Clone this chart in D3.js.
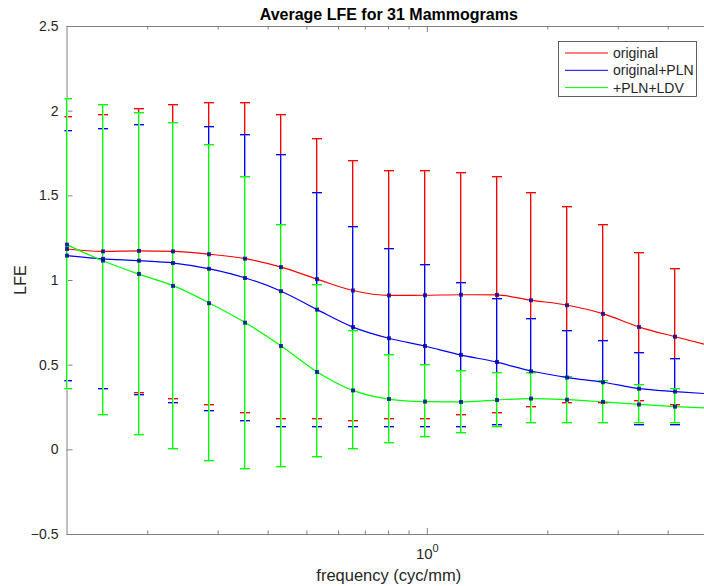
<!DOCTYPE html>
<html>
<head>
<meta charset="utf-8">
<script src="https://cdn.jsdelivr.net/npm/d3@7"></script>
<style>
  html, body { margin: 0; padding: 0; background: #fff; }
  svg { display: block; font-family: "Liberation Sans", Arial, Helvetica, sans-serif; }
</style>
</head>
<body>
<svg id="chart" width="704" height="586"></svg>
<script>
// ---- data ----
const freq = [0.1257, 0.1544, 0.1897, 0.2331, 0.2865, 0.3521, 0.4327, 0.5317, 0.6534, 0.8030,
              0.9868, 1.2127, 1.490, 1.831, 2.250, 2.765, 3.398, 4.176, 5.132];
const origMean = [1.183, 1.169, 1.172, 1.169, 1.152, 1.126, 1.076, 1.005, 0.938, 0.909,
                  0.910, 0.913, 0.912, 0.880, 0.851, 0.800, 0.722, 0.665, 0.610];
const origStd  = [0.777, 0.811, 0.843, 0.866, 0.894, 0.915, 0.895, 0.829, 0.767, 0.734,
                  0.730, 0.714, 0.698, 0.630, 0.582, 0.530, 0.434, 0.400, 0.370];
const plnMean  = [1.144, 1.125, 1.114, 1.100, 1.066, 1.012, 0.934, 0.825, 0.722, 0.656,
                  0.610, 0.558, 0.516, 0.461, 0.424, 0.396, 0.358, 0.341, 0.327];
const plnStd   = [0.737, 0.766, 0.797, 0.823, 0.837, 0.840, 0.799, 0.693, 0.586, 0.524,
                  0.482, 0.422, 0.370, 0.311, 0.274, 0.246, 0.213, 0.195, 0.180];
const ldvMean  = [1.209, 1.115, 1.036, 0.965, 0.863, 0.748, 0.610, 0.457, 0.348, 0.297,
                  0.282, 0.280, 0.291, 0.300, 0.293, 0.280, 0.265, 0.252, 0.243];
const ldvStd   = [0.856, 0.917, 0.956, 0.963, 0.930, 0.864, 0.717, 0.508, 0.346, 0.262,
                  0.215, 0.178, 0.161, 0.147, 0.140, 0.126, 0.111, 0.100, 0.095];
const seriesNames = ["original", "original+PLN", "+PLN+LDV"];
const seriesColors = ["#ff0000", "#0000ff", "#00ff00"];
const haloColors = ["#ffa0a0", "#a0a0ff", "#a0ffa0"];
const yTicks = [-0.5, 0, 0.5, 1, 1.5, 2, 2.5];
const xMajorTicks = [1];
const xMinorTicks = [0.2, 0.3, 0.4, 0.5, 0.6, 0.7, 0.8, 0.9, 2, 3, 4, 5];
const titleText = "Average LFE for 31 Mammograms";
const xLabel = "frequency (cyc/mm)";
const yLabel = "LFE";

// ---- layout ----
const L = 66.5, R = 711, T = 26, B = 534;
const axisColor = "#808080", textColor = "#262626";

const svg = d3.select("#chart");
const x = d3.scaleLog().domain([freq[0], freq[freq.length - 1]]).range([L, R]);
const y = d3.scaleLinear().domain([-0.5, 2.5]).range([B, T]);
// centre 2-pixel-wide strokes on odd pixel boundaries
const snapOdd = v => 2 * Math.round((v - 1) / 2) + 1;

const series = seriesNames.map((n, k) => ({
  name: n, color: seriesColors[k], halo: haloColors[k],
  mean: [origMean, plnMean, ldvMean][k], sd: [origStd, plnStd, ldvStd][k]
}));

svg.append("defs").append("clipPath").attr("id", "plotclip")
  .append("rect").attr("x", L - 2).attr("y", T - 1).attr("width", R - L + 3).attr("height", B - T + 2);

// ---- axes ----
function styleAxis(g) {
  g.selectAll("path.domain").attr("stroke", axisColor).attr("stroke-width", 1);
  g.selectAll(".tick line").attr("stroke", axisColor).attr("stroke-width", 1);
  g.selectAll(".tick text").attr("fill", textColor);
}
const yAxis = svg.append("g").attr("transform", `translate(${L},0)`)
  .call(d3.axisLeft(y).tickValues(yTicks).tickSize(-6).tickSizeOuter(0).tickPadding(8)
        .tickFormat(d => d3.format("")(d)))
  .call(styleAxis);
yAxis.selectAll(".tick text").attr("font-size", 14);

const xAxisB = svg.append("g").attr("transform", `translate(0,${B})`)
  .call(d3.axisBottom(x).tickValues(xMajorTicks).tickSize(-6).tickSizeOuter(0).tickPadding(14)
        .tickFormat(() => ""))
  .call(styleAxis);
xAxisB.selectAll(".tick text").each(function () {
  const t = d3.select(this).attr("font-size", 15);
  t.append("tspan").text("10");
  t.append("tspan").attr("font-size", 11).attr("dy", "-0.6em").text("0");
});
svg.append("g").attr("transform", `translate(0,${B})`)
  .call(d3.axisBottom(x).tickValues(xMinorTicks).tickSize(-3.5).tickSizeOuter(0).tickFormat(() => ""))
  .call(styleAxis).select("path.domain").remove();

svg.append("g").attr("transform", `translate(0,${T})`)
  .call(d3.axisTop(x).tickValues(xMajorTicks).tickSize(-6).tickSizeOuter(0).tickFormat(() => ""))
  .call(styleAxis);
svg.append("g").attr("transform", `translate(0,${T})`)
  .call(d3.axisTop(x).tickValues(xMinorTicks).tickSize(-3.5).tickSizeOuter(0).tickFormat(() => ""))
  .call(styleAxis).select("path.domain").remove();

// ---- plot content ----
const plot = svg.append("g").attr("clip-path", "url(#plotclip)");
const capHalf = 5;

series.forEach(s => {
  const g = plot.append("g").attr("fill", "none").attr("shape-rendering", "crispEdges");
  freq.forEach((f, i) => {
    const px = snapOdd(x(f)), y0 = snapOdd(y(s.mean[i] - s.sd[i])), y1 = snapOdd(y(s.mean[i] + s.sd[i]));
    // soft 2px body
    g.append("line").attr("stroke", s.halo).attr("stroke-width", 2)
      .attr("x1", px).attr("x2", px).attr("y1", y0).attr("y2", y1);
    g.append("line").attr("stroke", s.halo).attr("stroke-width", 2)
      .attr("x1", px - capHalf).attr("x2", px + capHalf).attr("y1", y0).attr("y2", y0);
    g.append("line").attr("stroke", s.halo).attr("stroke-width", 2)
      .attr("x1", px - capHalf).attr("x2", px + capHalf).attr("y1", y1).attr("y2", y1);
    // sharp 1px core
    g.append("line").attr("stroke", s.color).attr("stroke-width", 1)
      .attr("x1", px - 0.5).attr("x2", px - 0.5).attr("y1", y0).attr("y2", y1);
    g.append("line").attr("stroke", s.color).attr("stroke-width", 1)
      .attr("x1", px - capHalf).attr("x2", px + capHalf).attr("y1", y0 - 0.5).attr("y2", y0 - 0.5);
    g.append("line").attr("stroke", s.color).attr("stroke-width", 1)
      .attr("x1", px - capHalf).attr("x2", px + capHalf).attr("y1", y1 - 0.5).attr("y2", y1 - 0.5);
  });
});

const line = d3.line().x(d => x(d[0])).y(d => y(d[1])).curve(d3.curveMonotoneX);
series.forEach(s => {
  plot.append("path").datum(freq.map((f, i) => [f, s.mean[i]]))
    .attr("d", line).attr("fill", "none").attr("stroke", s.color).attr("stroke-width", 1.2);
});
series.forEach(s => {
  plot.append("g").selectAll("rect").data(freq.map((f, i) => [f, s.mean[i]])).join("rect")
    .attr("x", d => snapOdd(x(d[0])) - 2).attr("y", d => y(d[1]) - 2)
    .attr("width", 4).attr("height", 4).attr("fill", "#0a0a9a").attr("opacity", 0.85);
});

// ---- text ----
svg.append("text").attr("x", (L + R) / 2).attr("y", 20).attr("text-anchor", "middle")
  .attr("font-size", 16).attr("font-weight", "bold").attr("fill", "#000").text(titleText);
svg.append("text").attr("x", (L + R) / 2).attr("y", 581).attr("text-anchor", "middle")
  .attr("font-size", 16.5).attr("fill", textColor).text(xLabel);
svg.append("text").attr("transform", `translate(26,${(T + B) / 2}) rotate(-90)`)
  .attr("text-anchor", "middle").attr("font-size", 16).attr("fill", textColor).text(yLabel);

// ---- legend ----
const lg = svg.append("g").attr("transform", "translate(558.5,41.5)");
lg.append("rect").attr("width", 138).attr("height", 55).attr("fill", "#fff")
  .attr("stroke", "#3a3a3a").attr("stroke-width", 0.8);
series.forEach((s, i) => {
  const ly = 11.5 + i * 17.3;
  lg.append("line").attr("x1", 6.5).attr("x2", 49.5).attr("y1", ly).attr("y2", ly)
    .attr("stroke", s.color).attr("stroke-width", 1);
  lg.append("text").attr("x", 54.5).attr("y", ly).attr("dy", "0.35em")
    .attr("font-size", 14).attr("fill", textColor).text(s.name);
});
</script>
</body>
</html>
